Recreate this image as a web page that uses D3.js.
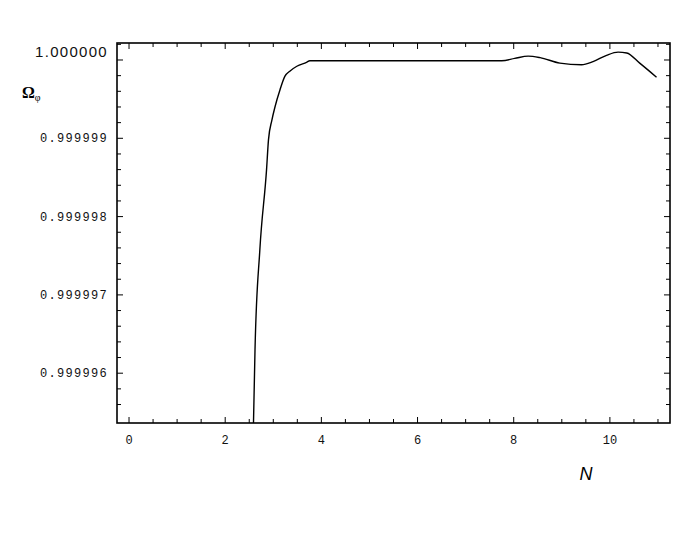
<!DOCTYPE html>
<html>
<head>
<meta charset="utf-8">
<script src="https://cdn.jsdelivr.net/npm/d3@7/dist/d3.min.js"></script>
<style>
  html, body { margin: 0; padding: 0; background: #fff; }
  svg { display: block; }
</style>
</head>
<body>
<svg id="chart" width="692" height="554"></svg>
<script>
// ---- data ----
const nValues = [2.55, 2.588, 2.62, 2.72, 2.86, 2.90, 2.97, 3.035, 3.14, 3.24, 3.35, 3.49, 3.69, 3.76,
                 5.0, 6.5, 7.6, 7.75, 8.02, 8.30, 8.55, 8.96, 9.41, 9.65, 9.93, 10.17, 10.35, 10.62, 10.97];
const omegaValues = [0.9999940, 0.99999536, 0.99999630, 0.99999757, 0.99999860, 0.99999898, 0.99999923,
                     0.99999940, 0.99999962, 0.99999979, 0.99999986, 0.99999992, 0.99999997, 0.99999999,
                     0.99999999, 0.99999999, 0.99999999, 0.99999999, 1.00000002, 1.00000005, 1.00000003,
                     0.99999996, 0.99999994, 0.99999998, 1.00000006, 1.00000010, 1.00000009, 0.99999996, 0.99999978];
const xTickLabels = [0, 2, 4, 6, 8, 10];
const yTickValues = [1.000000, 0.999999, 0.999998, 0.999997, 0.999996];
const yTickLabels = ["1.000000", "0.999999", "0.999998", "0.999997", "0.999996"];

(function () {
// ---- layout ----
const svg = d3.select("#chart");
const pLeft = 117, pRight = 670, pTop = 43, pBottom = 423;

const x = d3.scaleLinear().domain([-0.25, 11.25]).range([pLeft, pRight]);
const y = d3.scaleLinear().domain([0.999995364, 1.000000217]).range([pBottom, pTop]);

// clip
svg.append("defs").append("clipPath").attr("id", "clip")
  .append("rect").attr("x", pLeft).attr("y", pTop).attr("width", pRight - pLeft).attr("height", pBottom - pTop);

// curve
const data = nValues.map((n, i) => ({ n: n, v: omegaValues[i] }));
const line = d3.line().x(d => x(d.n)).y(d => y(d.v)).curve(d3.curveMonotoneX);
svg.append("path").datum(data)
  .attr("clip-path", "url(#clip)")
  .attr("fill", "none").attr("stroke", "#000").attr("stroke-width", 1.4)
  .attr("d", line);

// ticks
const xMinor = d3.range(0, 11.01, 0.5);
const yMinor = d3.range(0, 24).map(i => 1.0000002 - i * 0.0000002).filter(v => y(v) > pTop + 1 && y(v) < pBottom - 1);
const tickG = svg.append("g").attr("stroke", "#000").attr("stroke-width", 1);

xMinor.forEach(t => {
  const major = Math.abs(t - Math.round(t / 2) * 2) < 1e-9;
  const len = major ? 6 : 4;
  tickG.append("line").attr("x1", x(t)).attr("x2", x(t)).attr("y1", pBottom).attr("y2", pBottom - len);
  tickG.append("line").attr("x1", x(t)).attr("x2", x(t)).attr("y1", pTop).attr("y2", pTop + len);
});
yMinor.forEach(v => {
  const major = yTickValues.some(m => Math.abs(m - v) < 1e-10);
  const len = major ? 6 : 4;
  tickG.append("line").attr("x1", pLeft).attr("x2", pLeft + len).attr("y1", y(v)).attr("y2", y(v));
  tickG.append("line").attr("x1", pRight).attr("x2", pRight - len).attr("y1", y(v)).attr("y2", y(v));
});

// frame
svg.append("rect").attr("x", pLeft).attr("y", pTop).attr("width", pRight - pLeft).attr("height", pBottom - pTop)
  .attr("fill", "none").attr("stroke", "#000").attr("stroke-width", 1.6);

// x tick labels
svg.append("g").selectAll("text").data(xTickLabels).join("text")
  .attr("x", d => x(d)).attr("y", 444)
  .attr("text-anchor", "middle")
  .attr("font-family", "Liberation Mono, DejaVu Sans Mono, monospace")
  .attr("font-size", 12).attr("fill", "#111")
  .text(d => d);

// y tick labels
yTickValues.forEach((v, i) => {
  const first = i === 0;
  svg.append("text")
    .attr("x", 108).attr("y", first ? y(v) - 3 : y(v) + 4)
    .attr("text-anchor", "end")
    .attr("font-family", first ? "Liberation Sans, Arial, sans-serif" : "Liberation Mono, DejaVu Sans Mono, monospace")
    .attr("font-size", first ? 15 : 12)
    .attr("letter-spacing", 1.3)
    .attr("fill", "#111")
    .text(yTickLabels[i]);
});

// axis labels
const yl = svg.append("text").attr("x", 22).attr("y", 98)
  .attr("font-family", "Liberation Serif, Times New Roman, serif").attr("fill", "#000");
yl.append("tspan").attr("font-size", 16).attr("font-weight", "bold").text("Ω");
yl.append("tspan").attr("font-size", 10).attr("dy", 3).text("φ");

svg.append("text").attr("x", 586).attr("y", 480)
  .attr("text-anchor", "middle")
  .attr("font-family", "Liberation Sans, Arial, sans-serif")
  .attr("font-style", "italic").attr("font-size", 18).attr("fill", "#000")
  .text("N");
})();
</script>
</body>
</html>
